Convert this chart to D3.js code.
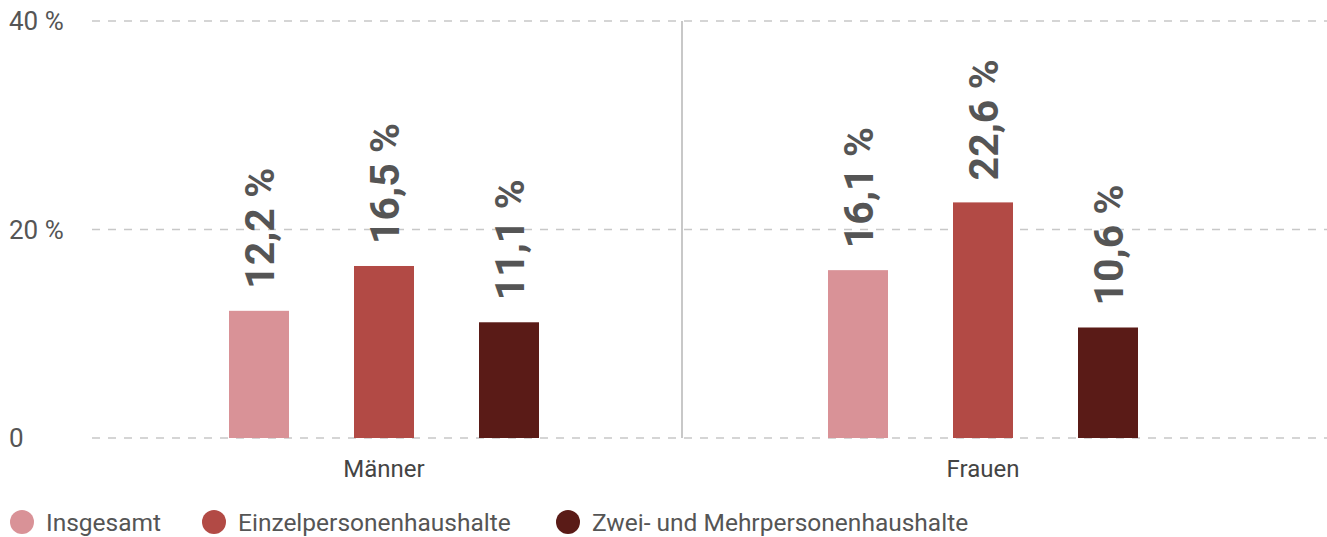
<!DOCTYPE html>
<html><head><meta charset="utf-8">
<script src="https://cdn.jsdelivr.net/npm/d3@7"></script>
<style>body{margin:0;background:#fff}svg{display:block}text{font-family:Roboto,"Liberation Sans",sans-serif}</style>
</head><body>
<svg id="c" width="1327" height="537"></svg>
<script>
const categories = ["Männer", "Frauen"];
const seriesNames = ["Insgesamt", "Einzelpersonenhaushalte", "Zwei- und Mehrpersonenhaushalte"];
const insgesamt = [12.2, 16.1];
const einzel = [16.5, 22.6];
const zwei = [11.1, 10.6];
const yTicks = [0, 20, 40];
const tickLabels = ["0", "20 %", "40 %"];
const colors = ["#d99297", "#b24a45", "#5a1b17"];

(function () {
const series = [insgesamt, einzel, zwei];
const svg = d3.select("#c");
const pLeft = 92, pRight = 1327, pTop = 21, pBottom = 438;
const y = d3.scaleLinear().domain([0, 40]).range([pBottom, pTop]);
const x0 = d3.scaleBand().domain(categories).range([84.5, 1282.5]).padding(0);
const x1 = d3.scalePoint().domain(seriesNames).range([-125, 125]);
const barW = 60;
const fmt = v => d3.format(".1f")(v).replace(".", ",") + " %";

svg.append("g").selectAll("line").data(yTicks).join("line")
  .attr("x1", pLeft).attr("x2", pRight).attr("y1", d => y(d)).attr("y2", d => y(d))
  .attr("stroke", "#c8c8c8").attr("stroke-width", 1.5).attr("stroke-dasharray", "8,8");
svg.append("g").selectAll("text").data(yTicks).join("text")
  .attr("x", 9).attr("y", d => y(d)).attr("dy", "0.36em")
  .attr("fill", "#555").attr("font-size", 26).text((d, i) => tickLabels[i]);

svg.append("line").attr("x1", 682).attr("x2", 682).attr("y1", y(40)).attr("y2", y(0))
  .attr("stroke", "#c8c8c8").attr("stroke-width", 2);

categories.forEach((c, ci) => {
  const cx = x0(c) + x0.bandwidth() / 2;
  seriesNames.forEach((s, si) => {
    const v = series[si][ci];
    const bx = cx + x1(s);
    svg.append("rect").attr("x", bx - barW / 2).attr("width", barW)
      .attr("y", y(v)).attr("height", y(0) - y(v)).attr("fill", colors[si]);
    svg.append("text")
      .attr("transform", `translate(${bx},${y(v) - 22}) rotate(-90)`)
      .attr("dy", "0.36em").attr("fill", "#555").attr("font-weight", 700)
      .attr("font-size", 41).text(fmt(v));
  });
  svg.append("text").attr("x", cx).attr("y", 468).attr("dy", "0.36em")
    .attr("text-anchor", "middle").attr("fill", "#444").attr("font-size", 24).text(c);
});

const legX = [22, 214, 568];
seriesNames.forEach((s, i) => {
  svg.append("circle").attr("cx", legX[i]).attr("cy", 522).attr("r", 12).attr("fill", colors[i]);
  svg.append("text").attr("x", legX[i] + 24).attr("y", 522).attr("dy", "0.36em")
    .attr("fill", "#555").attr("font-size", 24.5).text(s);
});
})();
</script>
</body></html>
